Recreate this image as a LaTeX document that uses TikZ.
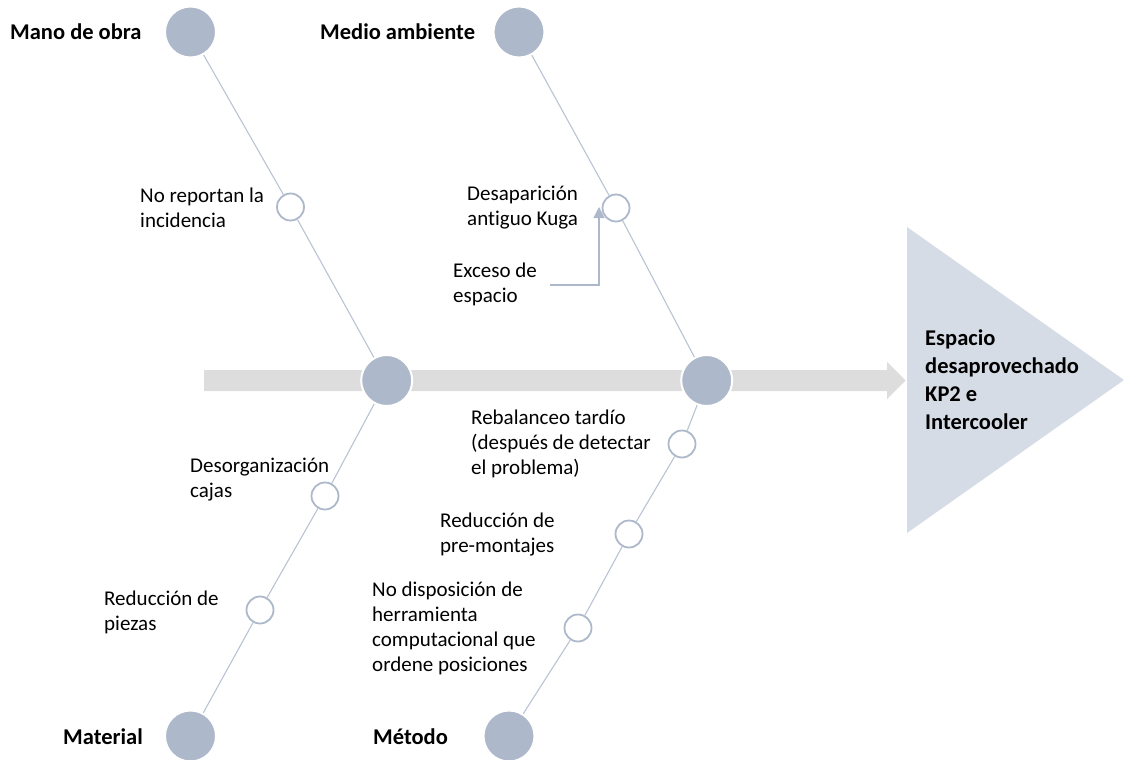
\documentclass[tikz,border=0pt]{standalone}
\usepackage{fontspec}
\setmainfont{Carlito}[Ligatures=NoCommon]
\usetikzlibrary{arrows.meta}
\definecolor{bubble}{HTML}{ADB9CA}
\definecolor{bone}{HTML}{B8C3D4}
\definecolor{spinegray}{HTML}{DDDDDD}
\definecolor{headfill}{HTML}{D6DCE5}
\pgfdeclarelayer{background}
\pgfsetlayers{background,main}
\tikzset{
  bigdot/.style={circle, minimum size=51pt, inner sep=0pt, fill=bubble, draw=white, line width=2pt},
  smalldot/.style={circle, minimum size=27pt, inner sep=0pt, fill=white, draw=bubble, line width=1.8pt},
  bone/.style={draw=bone, line width=1.1pt},
  causetxt/.style={anchor=west, align=left, inner sep=0pt, font=\fontsize{21}{25}\selectfont},
  cattxt/.style={anchor=west, align=left, inner sep=0pt, font=\fontsize{22.5}{28}\selectfont\bfseries},
  pointer/.style={draw=bubble, line width=1.1pt, -{Triangle[width=11pt,length=11pt]}}
}
\begin{document}
\begin{tikzpicture}[x=1pt, y=-1pt]
\useasboundingbox (0,0) rectangle (1124,760);

% effect head
\fill[headfill] (907,227) -- (1124,380) -- (907,533) -- cycle;
\node[cattxt] (effect) at (925,380) {Espacio\\desaprovechado\\KP2 e\\Intercooler};

% main spine (block arrow)
\coordinate (spineL) at (204,380.5);
\begin{pgfonlayer}{background}
\fill[spinegray] (spineL) ++(0,-10.5) -- (887,370) -- (887,362) -- (905.5,380.5)
  -- (887,399) -- (887,391) -- (204,391) -- cycle;
\end{pgfonlayer}

% category bubbles
\node[bigdot] (mano)  at (190.5,32)  {};
\node[bigdot] (medio) at (519,32)    {};
\node[bigdot] (mat)   at (190.5,736) {};
\node[bigdot] (met)   at (509,736)   {};
\node[bigdot] (j1)    at (386.7,380.5) {};
\node[bigdot] (j2)    at (706.7,380.5) {};

% cause markers
\node[smalldot] (c1) at (290.5,207) {};
\node[smalldot] (c2) at (616,208)   {};
\node[smalldot] (c3) at (325,496)   {};
\node[smalldot] (c4) at (260,610)   {};
\node[smalldot] (c5) at (682,444)   {};
\node[smalldot] (c6) at (629,534)   {};
\node[smalldot] (c7) at (578,628)   {};

% bones
\draw[bone] (mano) -- (c1) -- (j1);
\draw[bone] (medio) -- (c2) -- (j2);
\draw[bone] (j1) -- (c3) -- (c4) -- (mat);
\draw[bone] (j2) -- (c5) -- (c6) -- (c7) -- (met);

% category labels
\node[cattxt] (lmano)  at (10,32)  {Mano de obra};
\node[cattxt] (lmedio) at (320,32) {Medio ambiente};
\node[cattxt] (lmat)   at (63,737) {Material};
\node[cattxt] (lmet)   at (373,737) {Método};

% cause labels
\node[causetxt] (t1) at (140,207.5) {No reportan la\\incidencia};
\node[causetxt] (t2) at (467,207.5) {Desaparición\\antiguo Kuga};
\node[causetxt] (t2b) at (453,284) {Exceso de\\espacio};
\node[causetxt] (t5) at (471,444) {Rebalanceo tardío\\(después de detectar\\el problema)};
\node[causetxt] (t3) at (190,480) {Desorganización\\cajas};
\node[causetxt] (t6) at (440,534.5) {Reducción de\\pre-montajes};
\node[causetxt] (t4) at (104,612) {Reducción de\\piezas};
\node[causetxt] (t7) at (372,628) {No disposición de\\herramienta\\computacional que\\ordene posiciones};

% sub-cause pointer
\coordinate (pfrom) at (550,285);
\coordinate (pto) at (599,207);
\draw[pointer] (pfrom) -| (pto);
\end{tikzpicture}
\end{document}
